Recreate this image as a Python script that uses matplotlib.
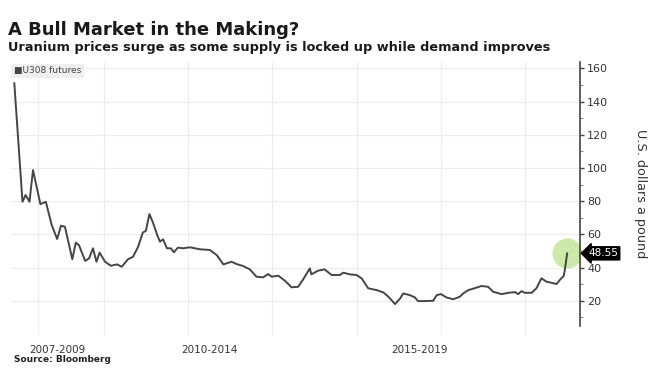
import matplotlib.pyplot as plt
from matplotlib.ticker import MultipleLocator

# U3O8 futures, US$ per pound, x in decimal years
years = [2007.50, 2007.71, 2007.79, 2007.89, 2007.98, 2008.17, 2008.31, 2008.46,
         2008.60, 2008.70, 2008.80, 2008.99, 2009.08, 2009.16, 2009.32, 2009.42,
         2009.52, 2009.61, 2009.69, 2009.83, 2009.98, 2010.14, 2010.26, 2010.42,
         2010.55, 2010.68, 2010.80, 2010.88, 2010.97, 2011.06, 2011.17, 2011.24,
         2011.32, 2011.42, 2011.52, 2011.60, 2011.70, 2011.83, 2012.01, 2012.27,
         2012.52, 2012.70, 2012.87, 2013.08, 2013.21, 2013.38, 2013.55, 2013.72,
         2013.89, 2014.02, 2014.11, 2014.28, 2014.45, 2014.62, 2014.79, 2014.92,
         2015.09, 2015.13, 2015.30, 2015.47, 2015.65, 2015.86, 2015.95, 2016.12,
         2016.29, 2016.42, 2016.59, 2016.81, 2016.98, 2017.11, 2017.28, 2017.41,
         2017.49, 2017.66, 2017.79, 2017.87, 2018.04, 2018.26, 2018.35, 2018.46,
         2018.60, 2018.77, 2018.94, 2019.03, 2019.16, 2019.33, 2019.50, 2019.67,
         2019.80, 2020.02, 2020.19, 2020.36, 2020.44, 2020.53, 2020.61, 2020.79,
         2020.91, 2021.04, 2021.17, 2021.43, 2021.51, 2021.61, 2021.64, 2021.70]
prices = [151.0, 79.6, 83.7, 79.6, 98.7, 78.2, 79.6, 65.6,
          57.2, 65.2, 64.6, 45.0, 55.0, 53.5, 44.0, 45.5,
          51.6, 43.5, 49.0, 43.5, 41.1, 41.9, 40.5, 45.0,
          46.5, 52.5, 61.0, 62.2, 72.2, 67.2, 59.6, 55.6,
          57.0, 51.6, 51.6, 49.2, 52.0, 51.6, 52.2, 51.0,
          50.6, 47.5, 41.9, 43.5, 42.1, 40.9, 38.9, 34.5,
          34.1, 36.1, 34.5, 35.1, 32.1, 28.1, 28.4, 32.9,
          39.5, 35.9, 38.1, 38.9, 35.5, 35.5, 36.9, 35.9,
          35.5, 33.5, 27.5, 26.4, 25.0, 22.4, 18.0, 21.4,
          24.4, 23.4, 22.0, 19.8, 19.8, 20.0, 23.4, 24.0,
          22.0, 20.9, 22.4, 24.4, 26.4, 27.6, 28.9, 28.4,
          25.4, 24.0, 24.8, 25.2, 24.0, 25.8, 24.8, 24.8,
          27.5, 33.5, 31.5, 30.1, 32.5, 34.9, 38.5, 48.55]

period_labels = ['2007-2009', '2010-2014', '2015-2019']
label_pos = [2008.60, 2012.50, 2017.92]
grid_years = [2008.10, 2009.80, 2011.95, 2014.12, 2016.30, 2018.46, 2020.61]

fig = plt.figure(figsize=(6.59, 3.90), dpi=100)
ax = fig.add_axes([11/659, 64/390, 569/659, 264/390])

for g in grid_years:
    ax.axvline(g, color='#ececec', lw=0.8, zorder=0, ymin=-0.03, clip_on=False)
ax.yaxis.grid(True, color='#ececec', lw=0.8)
ax.set_axisbelow(True)

ax.plot(years, prices, color='#454545', lw=1.4, zorder=3)
# highlight on latest value
ax.scatter([years[-1]], [prices[-1]], s=470, color='#c6e8a0', alpha=0.9, zorder=2, lw=0)

ax.set_xlim(2007.415, 2022.03)
ax.set_ylim(4.8, 163.8)

for s in ['top', 'left', 'bottom']:
    ax.spines[s].set_visible(False)
ax.spines['right'].set_color('#444444')
ax.spines['right'].set_linewidth(1.2)

ax.yaxis.tick_right()
ax.yaxis.set_minor_locator(MultipleLocator(10))
ax.set_yticks([20, 40, 60, 80, 100, 120, 140, 160])
ax.tick_params(axis='y', which='major', length=3, width=1, color='#444444',
               labelsize=8, labelcolor='#333333', pad=2)
ax.tick_params(axis='y', which='minor', length=2, width=0.8, color='#888888')

ax.set_xticks(label_pos)
ax.set_xticklabels(period_labels)
ax.tick_params(axis='x', length=0, labelsize=7.5, labelcolor='#333333', pad=14)

ax.yaxis.set_label_position('right')
ax.set_ylabel('U.S. dollars a pound', rotation=270, fontsize=9.2, color='#333333', labelpad=28)

ax.annotate(f'{prices[-1]:.2f}', xy=(1.0, prices[-1]), xycoords=('axes fraction', 'data'),
            xytext=(6, 0), textcoords='offset points', va='center', ha='left',
            fontsize=7.5, color='white',
            bbox=dict(boxstyle='larrow,pad=0.15', fc='black', ec='black'))

# legend box
fig.text(14/659, 1 - 71/390, '\u25a0U308 futures', fontsize=6.5, color='#444444', va='center',
         bbox=dict(boxstyle='square,pad=0.3', fc='#eeeeee', ec='none'))

fig.text(8/659, 1 - 30/390, 'A Bull Market in the Making?', fontsize=13,
         fontweight='bold', color='#1a1a1a', va='center')
fig.text(8/659, 1 - 48/390, 'Uranium prices surge as some supply is locked up while demand improves',
         fontsize=9.3, fontweight='bold', color='#1a1a1a', va='center')
fig.text(14/659, 1 - 359/390, 'Source: Bloomberg', fontsize=6.5, fontweight='bold',
         color='#222222', va='center')

fig.savefig('out.png', dpi=100)
